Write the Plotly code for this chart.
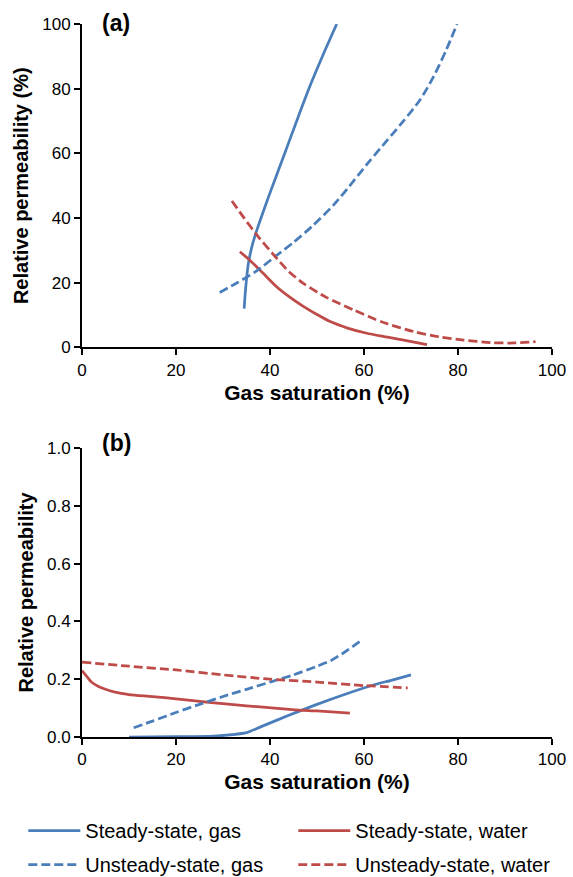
import plotly.graph_objects as go

# ---- Panel (a): relative permeability (%) vs gas saturation (%) ----
a_ss_gas_x = [34.5, 34.8, 35.4, 36.3, 37.2, 39.3, 41.2, 43.2, 45.8, 48.5, 51.3, 54.2]
a_ss_gas_y = [12.0, 18.0, 26.0, 32.0, 36.3, 45.0, 52.5, 60.3, 70.5, 80.8, 90.5, 100.0]

a_us_gas_x = [29.3, 33.0, 37.0, 41.0, 45.0, 49.0, 53.5, 57.8, 61.0, 64.9, 68.5, 71.9, 74.8, 77.5, 79.8]
a_us_gas_y = [17.0, 20.0, 23.5, 28.0, 32.5, 37.5, 44.0, 51.5, 57.3, 64.0, 70.2, 76.5, 83.7, 92.0, 100.0]

a_ss_wat_x = [33.6, 35.7, 38.5, 41.4, 44.0, 47.0, 50.0, 52.8, 56.5, 60.6, 65.0, 69.0, 73.4]
a_ss_wat_y = [29.6, 27.0, 23.0, 18.8, 15.8, 12.8, 10.2, 8.0, 6.0, 4.4, 3.2, 2.1, 0.9]

a_us_wat_x = [31.9, 34.5, 37.2, 41.4, 44.0, 47.1, 52.0, 57.8, 64.0, 70.6, 76.0, 81.2, 86.9, 92.0, 96.5]
a_us_wat_y = [45.3, 40.0, 34.8, 27.6, 23.5, 19.8, 15.5, 11.6, 7.8, 4.9, 3.3, 2.3, 1.5, 1.4, 1.8]

# ---- Panel (b): relative permeability (fraction) vs gas saturation (%) ----
b_ss_gas_x = [10.0, 20.0, 28.0, 32.0, 35.0, 38.0, 44.0, 50.0, 56.0, 62.0, 66.0, 70.0]
b_ss_gas_y = [0.0, 0.001, 0.003, 0.008, 0.015, 0.035, 0.075, 0.113, 0.148, 0.18, 0.197, 0.215]

b_us_gas_x = [11.0, 15.0, 20.0, 25.0, 30.0, 35.0, 40.0, 45.0, 50.0, 53.0, 56.0, 59.7]
b_us_gas_y = [0.032, 0.055, 0.085, 0.113, 0.14, 0.165, 0.19, 0.215, 0.245, 0.265, 0.295, 0.338]

b_ss_wat_x = [0.0, 1.0, 2.0, 3.5, 5.0, 7.0, 10.0, 15.0, 20.0, 27.0, 35.0, 44.7, 50.0, 57.0]
b_ss_wat_y = [0.23, 0.21, 0.19, 0.175, 0.165, 0.155, 0.147, 0.14, 0.132, 0.12, 0.108, 0.095, 0.09, 0.083]

b_us_wat_x = [0.0, 10.0, 20.0, 30.0, 40.0, 50.0, 60.0, 69.3]
b_us_wat_y = [0.259, 0.245, 0.232, 0.215, 0.2, 0.19, 0.178, 0.17]

series_names = ["Steady-state, gas", "Steady-state, water", "Unsteady-state, gas", "Unsteady-state, water"]
x_ticks = [0, 20, 40, 60, 80, 100]
ya_ticks = [0, 20, 40, 60, 80, 100]
yb_ticks = [0.0, 0.2, 0.4, 0.6, 0.8, 1.0]

BLUE = "#4A7EBB"
RED = "#BE4B48"
LW = 2.75
DASH = "9px,4px"
FONT = "Liberation Sans, Arial, sans-serif"

W, H = 573, 877

fig = go.Figure()

def add(x, y, name, color, dash, xa, ya, show, legend):
    fig.add_trace(go.Scatter(
        x=x, y=y, mode="lines", name=name, showlegend=show, legend=legend,
        line=dict(color=color, width=LW, dash=dash, shape="spline", smoothing=0.7),
        xaxis=xa, yaxis=ya))

add(a_ss_gas_x, a_ss_gas_y, series_names[0], BLUE, "solid", "x", "y", True, "legend")
add(a_ss_wat_x, a_ss_wat_y, series_names[1], RED, "solid", "x", "y", True, "legend2")
add(a_us_gas_x, a_us_gas_y, series_names[2], BLUE, DASH, "x", "y", True, "legend3")
add(a_us_wat_x, a_us_wat_y, series_names[3], RED, DASH, "x", "y", True, "legend4")

add(b_ss_gas_x, b_ss_gas_y, series_names[0], BLUE, "solid", "x2", "y2", False, "legend")
add(b_ss_wat_x, b_ss_wat_y, series_names[1], RED, "solid", "x2", "y2", False, "legend2")
add(b_us_gas_x, b_us_gas_y, series_names[2], BLUE, DASH, "x2", "y2", False, "legend3")
add(b_us_wat_x, b_us_wat_y, series_names[3], RED, DASH, "x2", "y2", False, "legend4")

axis_common = dict(showline=True, linecolor="black", linewidth=2, ticks="outside",
                   ticklen=6, tickwidth=1.5, tickcolor="black", showgrid=False, zeroline=False,
                   automargin=False, ticklabeloverflow="allow",
                   tickfont=dict(family=FONT, size=17, color="black"))
xtitle_font = dict(family=FONT, size=21, color="black")
ytitle_font = dict(family=FONT, size=20, color="black")

legend_common = dict(orientation="h", xref="container", yref="container", xanchor="left", yanchor="top",
                     itemwidth=52, font=dict(family=FONT, size=20, color="black"),
                     bgcolor="rgba(0,0,0,0)", borderwidth=0)

col1_x, col2_x = 23.3, 293.3
row1_y, row2_y = 811, 845

fig.update_layout(
    width=W, height=H,
    margin=dict(l=82, r=21, t=24, b=140, autoexpand=False),
    paper_bgcolor="white", plot_bgcolor="white",
    font=dict(family=FONT, color="black"),
    xaxis=dict(domain=[0, 1], anchor="y", range=[0, 100], tickvals=x_ticks,
               title=dict(text="<b>Gas saturation (%)</b>", font=xtitle_font, standoff=6), **axis_common),
    yaxis=dict(domain=[0.5463, 1], anchor="x", range=[0, 100], tickvals=ya_ticks,
               title=dict(text="<b>Relative permeability (%)</b>", font=ytitle_font, standoff=8), **axis_common),
    xaxis2=dict(domain=[0, 1], anchor="y2", range=[0, 100], tickvals=x_ticks,
                title=dict(text="<b>Gas saturation (%)</b>", font=xtitle_font, standoff=6), **axis_common),
    yaxis2=dict(domain=[0, 0.4053], anchor="x2", range=[0, 1], tickvals=yb_ticks, tickformat=".1f",
                title=dict(text="<b>Relative permeability</b>", font=ytitle_font, standoff=8), **axis_common),
    legend=dict(x=col1_x / W, y=1 - row1_y / H, **legend_common),
    legend2=dict(x=col2_x / W, y=1 - row1_y / H, **legend_common),
    legend3=dict(x=col1_x / W, y=1 - row2_y / H, **legend_common),
    legend4=dict(x=col2_x / W, y=1 - row2_y / H, **legend_common),
    annotations=[
        dict(text="<b>(a)</b>", xref="paper", yref="paper", x=0.0383, y=1.0014, xanchor="left",
             yanchor="middle", showarrow=False, font=dict(family=FONT, size=23, color="black")),
        dict(text="<b>(b)</b>", xref="paper", yref="paper", x=0.0383, y=0.413, xanchor="left",
             yanchor="middle", showarrow=False, font=dict(family=FONT, size=23, color="black")),
    ],
)

# remove the browser's default 8px body margin so the figure fills the window exactly
fig.write_html("out.html", config={"displayModeBar": False},
               post_script="document.body.style.margin='0px';")
